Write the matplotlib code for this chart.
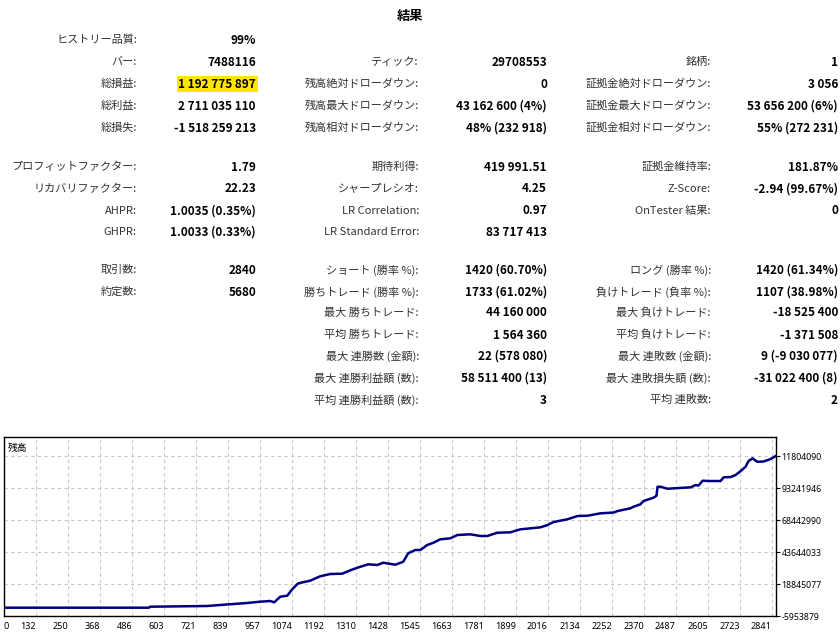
import numpy as np
import matplotlib
matplotlib.use("Agg")
import matplotlib.pyplot as plt
from matplotlib.transforms import Bbox, TransformedBbox

# report text: (label, value) per row, None = empty row
col1 = [("ヒストリー品質:", "99%"), ("バー:", "7488116"), ("総損益:", "1 192 775 897"),
        ("総利益:", "2 711 035 110"), ("総損失:", "-1 518 259 213"),
        ("プロフィットファクター:", "1.79"), ("リカバリファクター:", "22.23"),
        ("AHPR:", "1.0035 (0.35%)"), ("GHPR:", "1.0033 (0.33%)"),
        ("取引数:", "2840"), ("約定数:", "5680"),
        None, None, None, None, None]
col2 = [None, ("ティック:", "29708553"), ("残高絶対ドローダウン:", "0"),
        ("残高最大ドローダウン:", "43 162 600 (4%)"), ("残高相対ドローダウン:", "48% (232 918)"),
        ("期待利得:", "419 991.51"), ("シャープレシオ:", "4.25"),
        ("LR Correlation:", "0.97"), ("LR Standard Error:", "83 717 413"),
        ("ショート (勝率 %):", "1420 (60.70%)"), ("勝ちトレード (勝率 %):", "1733 (61.02%)"),
        ("最大 勝ちトレード:", "44 160 000"), ("平均 勝ちトレード:", "1 564 360"),
        ("最大 連勝数 (金額):", "22 (578 080)"), ("最大 連勝利益額 (数):", "58 511 400 (13)"),
        ("平均 連勝利益額 (数):", "3")]
col3 = [None, ("銘柄:", "1"), ("証拠金絶対ドローダウン:", "3 056"),
        ("証拠金最大ドローダウン:", "53 656 200 (6%)"), ("証拠金相対ドローダウン:", "55% (272 231)"),
        ("証拠金維持率:", "181.87%"), ("Z-Score:", "-2.94 (99.67%)"),
        ("OnTester 結果:", "0"), None,
        ("ロング (勝率 %):", "1420 (61.34%)"), ("負けトレード (負率 %):", "1107 (38.98%)"),
        ("最大 負けトレード:", "-18 525 400"), ("平均 負けトレード:", "-1 371 508"),
        ("最大 連敗数 (金額):", "9 (-9 030 077)"), ("最大 連敗損失額 (数):", "-31 022 400 (8)"),
        ("平均 連敗数:", "2")]

# balance curve (trade number, balance in millions)
trades = [14, 548, 552, 762, 843, 909, 957, 994, 1009, 1031, 1057, 1075, 1097, 1141,
          1178, 1215, 1259, 1289, 1315, 1355, 1388, 1410, 1455, 1484, 1502, 1528, 1547,
          1572, 1595, 1620, 1657, 1683, 1731, 1768, 1793, 1830, 1878, 1915, 1989, 2015,
          2037, 2088, 2125, 2162, 2210, 2258, 2273, 2320, 2331, 2357, 2368, 2405, 2416,
          2420, 2431, 2457, 2479, 2542, 2560, 2571, 2586, 2615, 2652, 2663, 2689, 2707,
          2726, 2744, 2755, 2770, 2781, 2788, 2810, 2836, 2855]
balance_m = [0.48, 0.48, 1.25, 1.80, 3.11, 4.12, 5.13, 5.67, 4.66, 9.00, 9.78, 14.74,
             19.39, 21.40, 24.81, 26.60, 26.83, 29.46, 31.48, 34.11, 33.57, 35.35, 33.80,
             36.13, 42.64, 45.20, 45.20, 49.07, 50.85, 53.49, 54.26, 56.82, 57.36, 56.05,
             56.05, 58.60, 58.91, 61.24, 62.79, 64.57, 66.89, 68.99, 71.54, 71.78, 73.64,
             74.26, 75.42, 77.51, 78.75, 80.61, 83.17, 85.73, 87.28, 94.25, 94.25, 92.70,
             93.01, 93.78, 95.57, 95.18, 98.90, 98.67, 98.67, 101.54, 101.77, 103.32,
             106.42, 109.75, 114.17, 116.26, 114.40, 113.63, 113.78, 115.72, 118.04]

x_ticks = [132, 250, 368, 486, 603, 721, 839, 957, 1074, 1192, 1310, 1428, 1545, 1663,
           1781, 1899, 2016, 2134, 2252, 2370, 2487, 2605, 2723, 2841]
y_ticks = [-5953879, 18845077, 43644033, 68442990, 93241946, 118040903]

W, H = 840, 632
fig = plt.figure(figsize=(8.4, 6.32), dpi=100)
fig.patch.set_facecolor("white")

jp = ["Noto Sans CJK JP", "DejaVu Sans"]
num = ["Noto Sans", "DejaVu Sans"]

def fx(px):
    return px / W

def fy(py):
    return 1 - py / H

fig.text(fx(410), fy(16), "結果", family=jp, fontsize=9.5, fontweight="bold",
         ha="center", va="center")

row_y = [40, 62, 84, 106, 128, 167, 189, 211, 232, 270, 292, 313, 335, 356, 378, 400]
columns = [(col1, 137, 256), (col2, 419, 547), (col3, 711, 838)]
for rows, lab_x, val_x in columns:
    for r, item in zip(row_y, rows):
        if item is None:
            continue
        lab, val = item
        fig.text(fx(lab_x), fy(r), lab, family=jp, fontsize=8, color="#333333",
                 ha="right", va="center")
        kw = {}
        if val == "1 192 775 897":
            kw["bbox"] = dict(facecolor="#ffe600", edgecolor="none", pad=1.2)
        fig.text(fx(val_x), fy(r), val, family=jp, fontsize=8.5, fontweight="bold",
                 color="black", ha="right", va="center", **kw)

# balance chart
ax = fig.add_axes([fx(4), 1 - 616 / H, (776 - 4) / W, (616 - 437) / H])
ax.plot(trades, np.array(balance_m) * 1e6, color="#000080", lw=1.8)
ax.set_xlim(14.2, 2856)
ax.set_ylim(-5953879, 132800000)

ax.set_xticks([14.2] + x_ticks)
ax.set_xticklabels(["0"] + [str(v) for v in x_ticks], fontsize=6.5, family=num)
for i, t in enumerate(ax.get_xticklabels()):
    t.set_ha("left" if i == 0 else "right")
ax.tick_params(axis="x", length=0, pad=4)

ax.yaxis.tick_right()
ax.set_yticks(y_ticks)
ax.set_yticklabels([str(v) for v in y_ticks], fontsize=6.3, family=num)
ax.tick_params(axis="y", length=3, width=0.8, pad=1)

# the chart widget cuts the right labels at about x=821
clip = TransformedBbox(Bbox([[0, 0], [822 / W, 1]]), fig.transFigure)
for t in ax.get_yticklabels():
    t.set_clip_box(clip)
    t.set_clip_on(True)

ax.grid(True, color="#c8c8c8", linestyle=(0, (3, 3)), lw=0.8)
for s in ax.spines.values():
    s.set_color("black")
    s.set_linewidth(1)

ax.text(0.005, 0.94, "残高", transform=ax.transAxes, family=jp, fontsize=7,
        ha="left", va="center")

fig.savefig("out.png", dpi=100)
